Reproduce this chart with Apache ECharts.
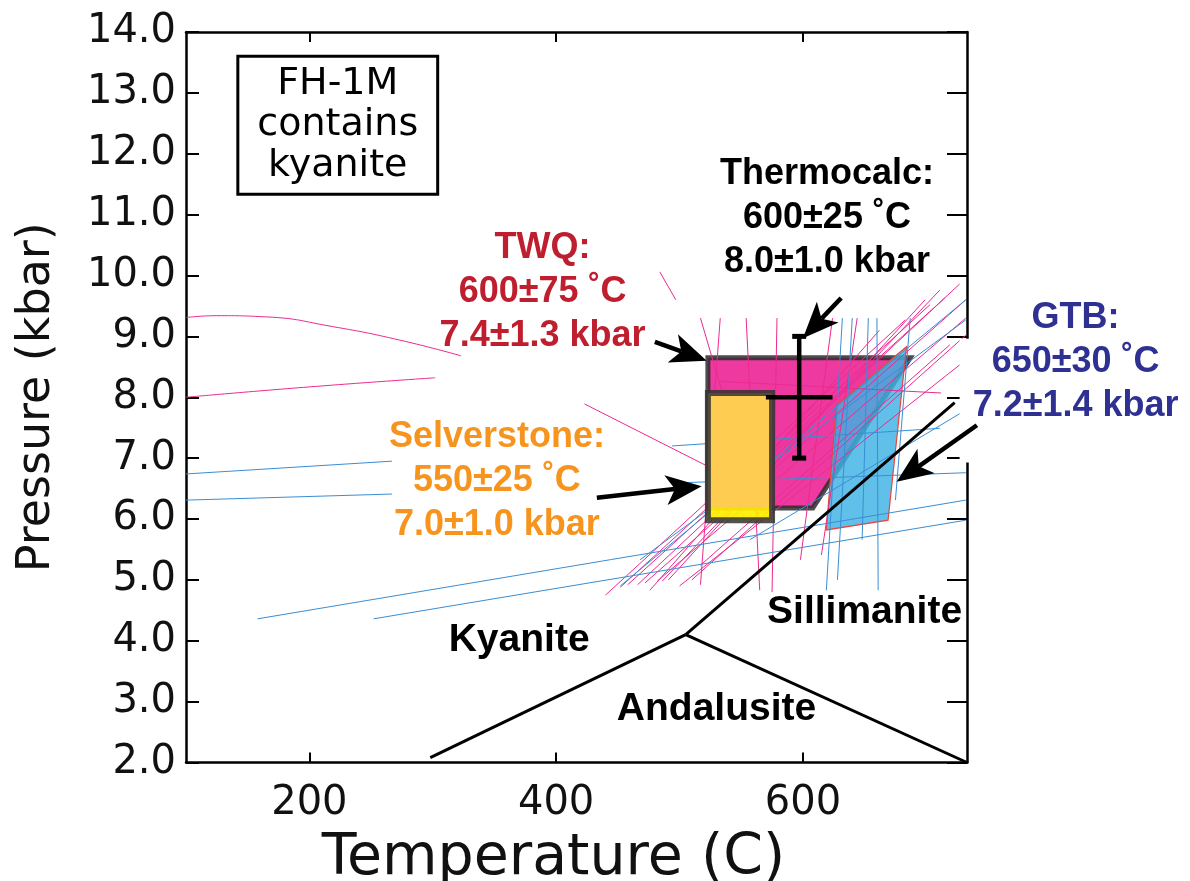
<!DOCTYPE html>
<html>
<head>
<meta charset="utf-8">
<script src="https://cdn.jsdelivr.net/npm/echarts@6/dist/echarts.min.js"></script>
<style>html,body{margin:0;padding:0;background:#fff}#chart{width:1190px;height:881px}</style>
</head>
<body>
<div id="chart"></div>
<script>
// ---------------- data ----------------
const xTickValues = [200, 400, 600];
const yTickValues = [2, 3, 4, 5, 6, 7, 8, 9, 10, 11, 12, 13, 14];

// Aluminosilicate phase boundaries [T (C), P (kbar)]
const kyaniteAndalusite = [[298, 2.08], [505, 4.1]];
const andalusiteSillimanite = [[505, 4.1], [733, 2.0]];
const kyaniteSillimanite = [[505, 4.1], [723, 7.91]];

// Estimate regions
const twqPolygon = [[523, 8.65], [687, 8.65], [608, 6.18], [523, 6.18]];
const gtbPolygon = [[627, 7.87], [684, 8.83], [669, 5.98], [619, 5.82]];
const selverstoneBox = [523, 575, 5.98, 8.07];   // Tmin, Tmax, Pmin, Pmax
const thermocalc = [597, 8.0, 27, 1.0];          // T, P, dT, dP

// Thin reaction lines [T1, P1, T2, P2]
const pinkLines = [
  [423, 7.89, 577, 6.31], [484, 10.06, 497, 9.60], [533, 8.26, 712, 8.07],
  [452, 4.88, 703, 9.52], [458, 4.92, 715, 9.63], [466, 4.92, 727, 9.86],
  [472, 4.95, 732, 9.60], [482, 4.98, 732, 9.30], [486, 4.98, 711, 9.76],
  [491, 5.00, 699, 9.60], [510, 5.00, 732, 9.02], [517, 5.24, 719, 8.86],
  [500, 4.90, 732, 8.61], [440, 4.75, 683, 9.27], [476, 4.83, 662, 9.10],
  [533, 9.30, 517, 4.92], [554, 9.30, 565, 4.83], [579, 9.30, 575, 4.80],
  [624, 9.30, 598, 5.33], [644, 9.30, 615, 5.41], [517, 9.30, 565, 5.98]
];
const pinkCurves = [
  [[100, 9.31], [125, 9.34], [165, 9.32], [219, 9.16], [273, 8.94], [323, 8.68]],
  [[100, 8.00], [200, 8.17], [302, 8.32]]
];
const blueLines = [
  [100, 6.74, 267, 6.95], [494, 7.20, 711, 7.49],
  [100, 6.31, 267, 6.41], [494, 6.59, 732, 6.76],
  [158, 4.36, 732, 6.31], [252, 4.36, 732, 5.98],
  [632, 9.30, 619, 4.83], [640, 9.30, 628, 5.00], [653, 9.30, 648, 5.66],
  [660, 9.30, 661, 4.83], [687, 9.30, 675, 6.31],
  [452, 4.90, 732, 9.60], [468, 5.33, 732, 9.27], [557, 5.66, 732, 7.79]
];

// Arrows [tailT, tailP, tipT, tipP]
const arrows = [
  [480, 8.91, 522, 8.60],
  [631, 9.63, 600, 8.97],
  [433, 6.35, 518, 6.54],
  [741, 7.54, 676, 6.61]
];

// ---------------- chart ----------------
const chart = echarts.init(document.getElementById('chart'), null, {renderer: 'canvas'});

const BOLD = 'bold 36px "Liberation Sans", Arial, sans-serif';
const BOLD38 = 'bold 39px "Liberation Sans", Arial, sans-serif';
const annotations = [
  {text: 'TWQ:\n600±75 ˚C\n7.4±1.3 kbar', at: [389, 9.73], color: '#BE1E2D', font: BOLD},
  {text: 'Thermocalc:\n600±25 ˚C\n8.0±1.0 kbar', at: [619.5, 10.94], color: '#000', font: BOLD},
  {text: 'Selverstone:\n550±25 ˚C\n7.0±1.0 kbar', at: [352, 6.62], color: '#F7941D', font: BOLD},
  {text: 'GTB:\n650±30 ˚C\n7.2±1.4 kbar', at: [821, 8.58], color: '#2E3192', font: BOLD},
  {text: 'Kyanite', at: [370, 4.01], color: '#000', font: BOLD38},
  {text: 'Sillimanite', at: [650, 4.46], color: '#000', font: BOLD38},
  {text: 'Andalusite', at: [530, 2.88], color: '#000', font: BOLD38},
  {text: 'FH-1M\ncontains\nkyanite', at: [223, 12.47], color: '#000', font: '38px "DejaVu Sans", sans-serif', box: true}
];
const axisGapMask = [727, 748, 6.93, 8.96];

function polygonSeries(points, style, z) {
  return {
    type: 'custom', coordinateSystem: 'cartesian2d', z: z, silent: true,
    data: [points[0]],
    renderItem: (params, api) => ({
      type: 'polygon',
      shape: {points: points.map(p => api.coord(p))},
      style: style
    })
  };
}
function boxPoints(b) {
  return [[b[0], b[2]], [b[1], b[2]], [b[1], b[3]], [b[0], b[3]]];
}
function linesSeries(list, color, z) {
  return {
    type: 'lines', coordinateSystem: 'cartesian2d', z: z, silent: true, clip: true,
    lineStyle: {color: color, width: 1, opacity: 1},
    data: list.map(l => ({coords: [[l[0], l[1]], [l[2], l[3]]]}))
  };
}
function curveSeries(pts, color, z) {
  return {
    type: 'line', data: pts, smooth: true, showSymbol: false, z: z, silent: true,
    lineStyle: {color: color, width: 1}
  };
}
function phaseSeries(pts) {
  return {type: 'line', data: pts, showSymbol: false, z: 7, silent: true,
    lineStyle: {color: '#000', width: 3}};
}

// overlap of Selverstone box with TWQ pressure range
const twqPmin = Math.min(...twqPolygon.map(p => p[1]));
const twqPmax = Math.max(...twqPolygon.map(p => p[1]));
const overlapBox = [selverstoneBox[0], selverstoneBox[1],
  Math.max(selverstoneBox[2], twqPmin), Math.min(selverstoneBox[3], twqPmax)];

const series = [
  polygonSeries(twqPolygon, {fill: 'rgb(238,58,160)', stroke: 'rgba(45,45,45,0.85)', lineWidth: 5, lineJoin: 'miter'}, 2),
  polygonSeries(gtbPolygon, {fill: 'rgba(62,178,228,0.82)', stroke: '#E8463C', lineWidth: 1.2}, 3),
  linesSeries(pinkLines, '#EC2A8F', 4),
  linesSeries(blueLines, '#3A8ED3', 4),
  curveSeries(pinkCurves[0], '#EC2A8F', 4),
  curveSeries(pinkCurves[1], '#EC2A8F', 4),
  polygonSeries(boxPoints(selverstoneBox), {fill: 'rgba(255,238,0,0.92)'}, 5),
  polygonSeries(boxPoints(overlapBox), {fill: 'rgba(254,202,86,0.92)'}, 5),
  polygonSeries(boxPoints(selverstoneBox), {fill: 'none', stroke: 'rgba(50,50,50,0.85)', lineWidth: 6, lineJoin: 'miter'}, 6),
  phaseSeries(kyaniteAndalusite),
  phaseSeries(andalusiteSillimanite),
  phaseSeries(kyaniteSillimanite),
  {
    type: 'custom', coordinateSystem: 'cartesian2d', z: 8, silent: true,
    data: [thermocalc],
    renderItem: (params, api) => {
      const t = api.value(0), p = api.value(1), dt = api.value(2), dp = api.value(3);
      const c = api.coord([t, p]);
      const l = api.coord([t - dt, p]), r = api.coord([t + dt, p]);
      const top = api.coord([t, p + dp]), bot = api.coord([t, p - dp]);
      const st = {stroke: '#000', lineWidth: 4.5};
      const cap = 7;
      return {type: 'group', children: [
        {type: 'line', shape: {x1: l[0], y1: c[1], x2: r[0], y2: c[1]}, style: st},
        {type: 'line', shape: {x1: c[0], y1: top[1], x2: c[0], y2: bot[1]}, style: st},
        {type: 'line', shape: {x1: c[0] - cap, y1: top[1], x2: c[0] + cap, y2: top[1]}, style: {stroke: '#000', lineWidth: 5}},
        {type: 'line', shape: {x1: c[0] - cap, y1: bot[1], x2: c[0] + cap, y2: bot[1]}, style: {stroke: '#000', lineWidth: 5}}
      ]};
    }
  },
  // white mask where the GTB label interrupts the right frame
  polygonSeries(boxPoints(axisGapMask), {fill: '#fff'}, 8),
  {
    type: 'custom', coordinateSystem: 'cartesian2d', z: 9, silent: true,
    data: arrows,
    renderItem: (params, api) => {
      const a = api.coord([api.value(0), api.value(1)]);
      const b = api.coord([api.value(2), api.value(3)]);
      const dx = b[0] - a[0], dy = b[1] - a[1], len = Math.hypot(dx, dy);
      const ux = dx / len, uy = dy / len;
      const L = 36, W = 15, N = 9;
      const base = [b[0] - ux * L, b[1] - uy * L];
      const notch = [b[0] - ux * (L - N), b[1] - uy * (L - N)];
      const left = [base[0] - uy * W, base[1] + ux * W];
      const right = [base[0] + uy * W, base[1] - ux * W];
      return {type: 'group', children: [
        {type: 'line', shape: {x1: a[0], y1: a[1], x2: notch[0], y2: notch[1]}, style: {stroke: '#000', lineWidth: 4.5}},
        {type: 'polygon', shape: {points: [b, left, notch, right]}, style: {fill: '#000'}}
      ]};
    }
  },
  {
    type: 'custom', coordinateSystem: 'cartesian2d', z: 10, silent: true,
    data: annotations.map(a => a.at),
    renderItem: (params, api) => {
      const a = annotations[params.dataIndex];
      const p = api.coord(a.at);
      const style = {text: a.text, fill: a.color, font: a.font, align: 'center', verticalAlign: 'middle',
        lineHeight: a.box ? 41 : 44};
      if (a.box) {
        style.backgroundColor = '#fff';
        style.borderColor = '#000';
        style.borderWidth = 3;
        style.padding = [6, 18, 6, 18];
      }
      return {type: 'text', x: p[0], y: p[1], style: style};
    }
  }
];

const axisLineStyle = {color: '#000', width: 2.5};
const tickFont = {fontFamily: '"DejaVu Sans", sans-serif', fontSize: 40, color: '#111'};

chart.setOption({
  animation: false,
  backgroundColor: '#fff',
  grid: {left: 186, right: 223, top: 32, bottom: 118.5, containLabel: false, outerBoundsMode: 'none'},
  xAxis: [
    {
      type: 'value', min: 100, max: 733, position: 'bottom',
      axisLine: {show: true, onZero: false, lineStyle: axisLineStyle},
      axisTick: {show: true, inside: true, length: 10, customValues: xTickValues, lineStyle: {color: '#000', width: 2}},
      axisLabel: Object.assign({customValues: xTickValues, margin: 21}, tickFont),
      splitLine: {show: false},
      name: 'Temperature (C)', nameLocation: 'middle', nameGap: 68,
      nameTextStyle: {fontFamily: '"DejaVu Sans", sans-serif', fontSize: 57, color: '#111', padding: [0, 46, 0, 0]}
    },
    {
      type: 'value', min: 100, max: 733, position: 'top',
      axisLine: {show: true, onZero: false, lineStyle: axisLineStyle},
      axisTick: {show: true, inside: true, length: 10, customValues: xTickValues, lineStyle: {color: '#000', width: 2}},
      axisLabel: {show: false}, splitLine: {show: false}
    }
  ],
  yAxis: [
    {
      type: 'value', min: 2, max: 14, interval: 1, position: 'left',
      axisLine: {show: true, onZero: false, lineStyle: axisLineStyle},
      axisTick: {show: true, inside: true, length: 13, lineStyle: {color: '#000', width: 2}},
      axisLabel: Object.assign({margin: 10, formatter: v => v.toFixed(1)}, tickFont),
      splitLine: {show: false},
      name: 'Pressure (kbar)', nameLocation: 'middle', nameGap: 126, nameRotate: 90,
      nameTextStyle: {fontFamily: '"DejaVu Sans", sans-serif', fontSize: 46, color: '#111'}
    },
    {
      type: 'value', min: 2, max: 14, interval: 1, position: 'right',
      axisLine: {show: true, onZero: false, lineStyle: axisLineStyle},
      axisTick: {show: true, inside: true, length: 20, lineStyle: {color: '#000', width: 2}},
      axisLabel: {show: false}, splitLine: {show: false}
    }
  ],
  series: series
});
</script>
</body>
</html>
